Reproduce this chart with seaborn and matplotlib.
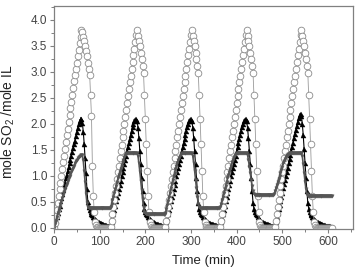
import numpy as np
import pandas as pd
import matplotlib
matplotlib.use("Agg")
import matplotlib.pyplot as plt
from matplotlib.ticker import MultipleLocator
import seaborn as sns

# sampling times (min), one reading every 2 min over five absorption/desorption cycles
time = np.arange(0, 610, 2)

# open circles (values per cycle)
circles_c1 = [0.00, 0.10, 0.22, 0.35, 0.48, 0.61, 0.74, 0.87, 1.00, 1.13, 1.26, 1.39, 1.52, 1.65, 1.78, 1.91,
              2.04, 2.17, 2.30, 2.43, 2.56, 2.69, 2.82, 2.94, 3.06, 3.18, 3.30, 3.42, 3.55, 3.68, 3.80,
              3.76, 3.68, 3.59, 3.50, 3.40, 3.30, 3.18, 3.06, 2.95,
              2.56, 2.15, 1.20, 0.62, 0.30, 0.12, 0.05, 0.02, 0.01] + [0.0] * 11
circles_c2 = [0.00, 0.00, 0.02, 0.14, 0.27, 0.40, 0.54, 0.67, 0.80, 0.94, 1.07, 1.20, 1.34, 1.47, 1.60, 1.74,
              1.87, 2.00, 2.14, 2.27, 2.40, 2.54, 2.67, 2.80, 2.93, 3.06, 3.19, 3.32, 3.45, 3.58, 3.72, 3.80,
              3.70, 3.60, 3.49, 3.37, 3.24, 3.11, 2.98, 2.55, 2.10, 1.62, 1.10, 0.62, 0.30, 0.12, 0.05, 0.02] + [0.0] * 12
circles_c3 = [0.00, 0.00, 0.02, 0.14, 0.27, 0.40, 0.54, 0.67, 0.80, 0.94, 1.07, 1.20, 1.34, 1.47, 1.60, 1.74,
              1.87, 2.00, 2.14, 2.27, 2.40, 2.54, 2.67, 2.80, 2.93, 3.06, 3.19, 3.32, 3.45, 3.58, 3.72, 3.80,
              3.70, 3.60, 3.49, 3.37, 3.24, 3.11, 2.98, 2.55, 2.10, 1.62, 1.10, 0.62, 0.30, 0.12, 0.05, 0.02] + [0.0] * 12
circles_c4 = [0.00, 0.00, 0.02, 0.14, 0.27, 0.40, 0.54, 0.67, 0.80, 0.94, 1.07, 1.20, 1.34, 1.47, 1.60, 1.74,
              1.87, 2.00, 2.14, 2.27, 2.40, 2.54, 2.67, 2.80, 2.93, 3.06, 3.19, 3.32, 3.45, 3.58, 3.72, 3.80,
              3.70, 3.60, 3.49, 3.37, 3.24, 3.11, 2.98, 2.55, 2.10, 1.62, 1.10, 0.62, 0.30, 0.12, 0.05, 0.02] + [0.0] * 12
circles_c5 = [0.00, 0.00, 0.02, 0.14, 0.27, 0.40, 0.54, 0.67, 0.80, 0.94, 1.07, 1.20, 1.34, 1.47, 1.60, 1.74,
              1.87, 2.00, 2.14, 2.27, 2.40, 2.54, 2.67, 2.80, 2.93, 3.06, 3.19, 3.32, 3.45, 3.58, 3.72, 3.80,
              3.70, 3.60, 3.49, 3.37, 3.24, 3.11, 2.98, 2.55, 2.10, 1.62, 1.10, 0.62, 0.30, 0.12, 0.05, 0.02] + [0.0] * 17

# filled black triangles
black_c1 = [0.00, 0.07, 0.14, 0.21, 0.29, 0.36, 0.43, 0.51, 0.58, 0.65, 0.73, 0.80, 0.87, 0.95, 1.02, 1.09,
            1.17, 1.24, 1.31, 1.39, 1.46, 1.53, 1.61, 1.68, 1.76, 1.84, 1.92, 1.99, 2.05, 2.09, 2.10,
            2.02, 1.85, 1.62, 1.35, 1.05, 0.75, 0.50, 0.40, 0.34, 0.30, 0.27, 0.24, 0.21, 0.19, 0.17,
            0.15, 0.14, 0.12, 0.11, 0.10, 0.09, 0.08, 0.07, 0.07, 0.06, 0.05, 0.05, 0.04, 0.04]
black_c2 = [0.04, 0.04, 0.05, 0.11, 0.19, 0.27, 0.35, 0.43, 0.51, 0.59, 0.67, 0.75, 0.83, 0.91, 0.99, 1.07,
            1.15, 1.23, 1.31, 1.39, 1.47, 1.55, 1.63, 1.71, 1.79, 1.87, 1.94, 2.00, 2.05, 2.08, 2.10,
            2.06, 1.92, 1.72, 1.48, 1.22, 0.95, 0.70, 0.48, 0.37, 0.31, 0.27, 0.24, 0.21, 0.19, 0.17,
            0.15, 0.14, 0.12, 0.11, 0.10, 0.09, 0.08, 0.07, 0.07, 0.06, 0.05, 0.05, 0.04, 0.04]
black_c3 = [0.04, 0.04, 0.05, 0.11, 0.19, 0.27, 0.35, 0.43, 0.51, 0.59, 0.67, 0.75, 0.83, 0.91, 0.99, 1.07,
            1.15, 1.23, 1.31, 1.39, 1.47, 1.55, 1.63, 1.71, 1.79, 1.87, 1.94, 2.00, 2.05, 2.08, 2.10,
            2.06, 1.92, 1.72, 1.48, 1.22, 0.95, 0.70, 0.48, 0.37, 0.31, 0.27, 0.24, 0.21, 0.19, 0.17,
            0.15, 0.14, 0.12, 0.11, 0.10, 0.09, 0.08, 0.07, 0.07, 0.06, 0.05, 0.05, 0.04, 0.04]
black_c4 = [0.04, 0.04, 0.05, 0.11, 0.19, 0.27, 0.35, 0.43, 0.51, 0.59, 0.67, 0.75, 0.83, 0.91, 0.99, 1.07,
            1.15, 1.23, 1.31, 1.39, 1.47, 1.55, 1.63, 1.71, 1.79, 1.87, 1.94, 2.00, 2.05, 2.08, 2.10,
            2.06, 1.92, 1.72, 1.48, 1.22, 0.95, 0.70, 0.48, 0.37, 0.31, 0.27, 0.24, 0.21, 0.19, 0.17,
            0.15, 0.14, 0.12, 0.11, 0.10, 0.09, 0.08, 0.07, 0.07, 0.06, 0.05, 0.05, 0.04, 0.04]
black_c5 = [0.04, 0.04, 0.05, 0.12, 0.20, 0.28, 0.36, 0.44, 0.52, 0.60, 0.68, 0.76, 0.84, 0.92, 1.00, 1.08,
            1.16, 1.24, 1.32, 1.40, 1.48, 1.56, 1.64, 1.72, 1.80, 1.88, 1.96, 2.04, 2.11, 2.17, 2.20,
            2.15, 2.00, 1.78, 1.52, 1.24, 0.96, 0.70, 0.48, 0.37, 0.31, 0.27, 0.24, 0.21, 0.19, 0.17,
            0.15, 0.14, 0.12, 0.11, 0.10, 0.09, 0.08, 0.07, 0.07, 0.06, 0.05, 0.05, 0.04, 0.04,
            0.03, 0.03, 0.03, 0.02, 0.02]

# grey down triangles (plateau at ~1.4, residual level after desorption)
grey_c1 = [0.00, 0.07, 0.14, 0.21, 0.28, 0.34, 0.40, 0.46, 0.52, 0.58, 0.64, 0.69, 0.75, 0.80, 0.85, 0.90,
           0.95, 1.00, 1.04, 1.08, 1.12, 1.16, 1.20, 1.24, 1.28, 1.31, 1.34, 1.37, 1.39, 1.40, 1.40, 1.40,
           1.30, 1.10, 0.88, 0.66, 0.48, 0.40, 0.38] + [0.38] * 21
grey_c2 = [0.38, 0.38, 0.40, 0.46, 0.53, 0.60, 0.67, 0.74, 0.81, 0.88, 0.95, 1.02, 1.08, 1.14, 1.20, 1.26,
           1.31, 1.36, 1.40, 1.43, 1.44] + [1.44] * 11 + \
          [1.38, 1.24, 1.08, 0.90, 0.72, 0.55, 0.40, 0.31, 0.28] + [0.27] * 19
grey_c3 = [0.27, 0.27, 0.29, 0.36, 0.44, 0.52, 0.60, 0.68, 0.76, 0.84, 0.92, 0.99, 1.06, 1.13, 1.19, 1.25,
           1.30, 1.35, 1.39, 1.42, 1.44] + [1.44] * 11 + \
          [1.38, 1.25, 1.10, 0.93, 0.76, 0.60, 0.46, 0.40, 0.38] + [0.38] * 19
grey_c4 = [0.38, 0.38, 0.40, 0.46, 0.53, 0.60, 0.67, 0.74, 0.81, 0.88, 0.95, 1.02, 1.08, 1.14, 1.20, 1.26,
           1.31, 1.36, 1.40, 1.43, 1.44] + [1.44] * 11 + \
          [1.40, 1.30, 1.18, 1.05, 0.92, 0.80, 0.70, 0.66, 0.64] + [0.64] * 19
grey_c5 = [0.64, 0.65, 0.70, 0.76, 0.82, 0.88, 0.94, 1.00, 1.06, 1.12, 1.18, 1.24, 1.29, 1.33, 1.37, 1.40,
           1.42, 1.43, 1.44] + [1.44] * 13 + \
          [1.38, 1.22, 1.05, 0.88, 0.74, 0.65, 0.62] + [0.62] * 26

circles = circles_c1 + circles_c2 + circles_c3 + circles_c4 + circles_c5
black = black_c1 + black_c2 + black_c3 + black_c4 + black_c5
grey = grey_c1 + grey_c2 + grey_c3 + grey_c4 + grey_c5

df = pd.DataFrame({'time': time, 'circles': circles, 'black': black, 'grey': grey})

sns.set_style('ticks')
plt.rcParams['font.family'] = ['Liberation Sans', 'DejaVu Sans']
plt.rcParams['mathtext.fontset'] = 'custom'
plt.rcParams['mathtext.rm'] = 'Liberation Sans'
plt.rcParams['mathtext.it'] = 'Liberation Sans'

fig = plt.figure(figsize=(3.58, 2.69), dpi=100)
ax = fig.add_axes([0.151, 0.149, 0.835, 0.829])

sns.lineplot(data=df, x='time', y='black', ax=ax, estimator=None, color='black', linewidth=0.8,
             marker='^', markersize=3.6, markerfacecolor='black', markeredgecolor='black', markeredgewidth=0.3)
sns.lineplot(data=df, x='time', y='circles', ax=ax, estimator=None, color='#999999', linewidth=0.6,
             marker='o', markersize=4.8, markerfacecolor='white', markeredgecolor='#8a8a8a', markeredgewidth=0.6)
sns.lineplot(data=df, x='time', y='grey', ax=ax, estimator=None, color='#555555', linewidth=1.2,
             marker='v', markersize=2.4, markerfacecolor='#555555', markeredgecolor='#555555', markeredgewidth=0.3)

ax.set_xlim(0, 655)
ax.set_ylim(-0.02, 4.27)
ax.xaxis.set_major_locator(MultipleLocator(100))
ax.xaxis.set_minor_locator(MultipleLocator(50))
ax.yaxis.set_major_locator(MultipleLocator(0.5))
ax.yaxis.set_minor_locator(MultipleLocator(0.25))
ax.yaxis.set_major_formatter(plt.FuncFormatter(lambda v, p: f'{v:.1f}'))

for side in ['top', 'right', 'bottom', 'left']:
    ax.spines[side].set_color('#808080')
    ax.spines[side].set_linewidth(0.9)
ax.tick_params(which='major', length=3, width=0.8, color='#808080', labelsize=8.5, labelcolor='#444444', pad=2)
ax.tick_params(which='minor', length=2, width=0.7, color='#808080')

ax.set_xlabel('Time (min)', fontsize=9.5, color='#222222', labelpad=5)
ax.set_ylabel('mole SO$_2$ /mole IL', fontsize=10, color='#222222', labelpad=10)
ax.yaxis.set_label_coords(-0.125, 0.48)

fig.savefig('out.png', dpi=100)
